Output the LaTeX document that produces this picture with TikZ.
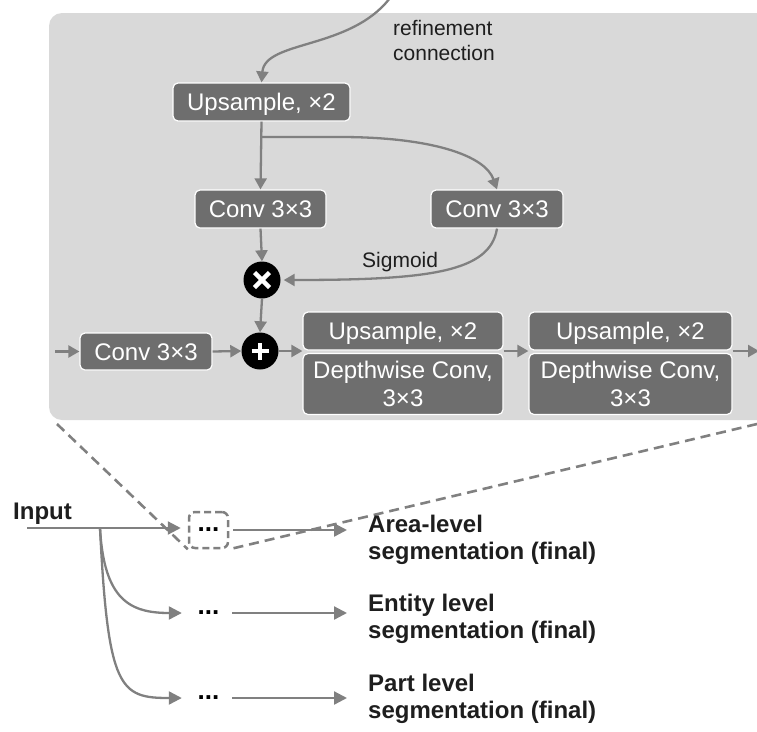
\documentclass[tikz,border=0pt]{standalone}
\usepackage{fontspec}
\setmainfont{Liberation Sans}
\usetikzlibrary{arrows.meta}
\definecolor{panelgray}{HTML}{D9D9D9}
\definecolor{boxgray}{HTML}{6E6E6E}
\definecolor{linegray}{HTML}{808080}
\definecolor{inkdark}{HTML}{1E1E1E}
\begin{document}
\begin{tikzpicture}[x=1pt,y=-1pt,
  block/.style={draw=white, line width=1.2pt, fill=boxgray, rounded corners=5pt,
    text=white, font=\fontsize{24}{28}\selectfont, inner sep=0pt},
  oneline/.style={block, text height=17pt, text depth=0pt},
  flow/.style={draw=linegray, line width=2.3pt, -{Triangle[length=11pt,width=12pt]}},
  flowB/.style={draw=linegray, line width=2.3pt, -{Triangle[length=13pt,width=13pt]}},
  op/.style={circle, fill=black, minimum size=37pt, inner sep=0pt},
  opsign/.style={draw=white, line width=4.5pt},
  zoomline/.style={draw=linegray, line width=2.6pt, dash pattern=on 10pt off 6pt},
  dotsbox/.style={minimum width=39pt, minimum height=36pt, inner sep=0pt,
    font=\bfseries\fontsize{26}{27}\selectfont},
  lbl/.style={font=\fontsize{21}{25}\selectfont, align=left, inner sep=0pt, text=inkdark},
  outlbl/.style={font=\bfseries\fontsize{24}{27}\selectfont, align=left, inner sep=0pt, text=inkdark},
]
\useasboundingbox (0,0) rectangle (757,731);

% magnified decoder panel
\fill[panelgray, rounded corners=13pt] (49,13) rectangle (800,420);

% blocks inside the panel
\node[oneline, minimum width=177pt, minimum height=38pt] (upA) at (261.5,102) {Upsample, ×2};
\node[oneline, minimum width=131pt, minimum height=38pt] (convA) at (260.5,209) {Conv 3×3};
\node[oneline, minimum width=132pt, minimum height=38pt] (convB) at (497,209) {Conv 3×3};
\node[op] (mul) at (262,280) {};
\node[op] (add) at (260,351) {};
\node[oneline, minimum width=132pt, minimum height=37pt] (convC) at (146,351.5) {Conv 3×3};
\node[oneline, minimum width=200pt, minimum height=38pt] (upB) at (403,331) {Upsample, ×2};
\node[block, align=center, minimum width=200pt, minimum height=61pt] (dwB) at (403,384) {Depthwise Conv,\\3×3};
\node[oneline, minimum width=203pt, minimum height=38pt] (upC) at (630.5,331) {Upsample, ×2};
\node[block, align=center, minimum width=203pt, minimum height=61pt] (dwC) at (630.5,384) {Depthwise Conv,\\3×3};

% multiply and add signs
\draw[opsign] ([shift={(-7.5pt,-7.5pt)}]mul.center) -- ([shift={(7.5pt,7.5pt)}]mul.center);
\draw[opsign] ([shift={(-7.5pt,7.5pt)}]mul.center) -- ([shift={(7.5pt,-7.5pt)}]mul.center);
\draw[opsign] ([xshift=-8.5pt]add.center) -- ([xshift=8.5pt]add.center);
\draw[opsign] ([yshift=-8.5pt]add.center) -- ([yshift=8.5pt]add.center);

% labels inside the panel
\node[lbl, anchor=west] (refLbl) at (393,40) {refinement\\connection};
\node[lbl, anchor=base west] (sigLbl) at (362,267) {Sigmoid};

% connectors inside the panel
\coordinate (refin) at (390,-2);
\coordinate (fork) at (261.5,137);
\coordinate (inL) at (55,351.5);
\coordinate (outR) at (759,351);
\draw[flow] (refin) .. controls (350,50) and (265,40) .. (upA.north);
\draw[flow] (upA.south) -- (convA.north);
\draw[flow] (fork) -- (340,137) .. controls (430,137) and (485,155) .. (convB.north);
\draw[flow] (convA.south) -- (mul.north);
\draw[flow, shorten >=3pt] (convB.south) .. controls (490,272) and (430,280) .. (mul.east);
\draw[flow] (mul.south) -- (add.north);
\draw[flow] (inL) -- (convC.west);
\draw[flow] (convC.east) -- (add.west);
\draw[flow] (add.east) -- (add.east -| upB.west);
\draw[flow] (add.east -| upB.east) -- (add.east -| upC.west);
\draw[flow] (add.east -| upC.east) -- (outR);

% overview of the three branches
\node[dotsbox, draw=linegray, line width=2.5pt, dash pattern=on 7pt off 4pt, rounded corners=6pt] (dotsA) at (208.5,530) {...};
\node[dotsbox] (dotsB) at (208.5,613) {...};
\node[dotsbox] (dotsC) at (208.5,698) {...};

\coordinate (panelBL) at (57,424);
\coordinate (panelBR) at (757,424);
\draw[zoomline] (panelBL) -- (dotsA.south west);
\draw[zoomline] (panelBR) -- (dotsA.south east);

\node[font=\bfseries\fontsize{24}{27}\selectfont, anchor=base west, inner sep=0pt, text=inkdark] (input) at (13,519) {Input};
\coordinate (inStart) at (27,528);
\coordinate (split) at (100,528);
\draw[flowB, shorten >=7pt] (inStart) -- (inStart -| dotsA.west);
\draw[flowB, shorten >=7pt] (split) .. controls (104,600) and (130,613) .. (dotsB.west);
\draw[flowB, shorten >=7pt] (split) .. controls (108,690) and (120,698) .. (dotsC.west);

\node[outlbl, anchor=west] (areaLbl) at (368,540.3) {Area-level\\segmentation (final)};
\node[outlbl, anchor=west] (entLbl) at (368,619.3) {Entity level\\segmentation (final)};
\node[outlbl, anchor=west] (partLbl) at (368,699.3) {Part level\\segmentation (final)};

\draw[flowB, shorten <=4pt, shorten >=21pt] (dotsA.east) -- (dotsA.east -| areaLbl.west);
\draw[flowB, shorten <=4pt, shorten >=21pt] (dotsB.east) -- (dotsB.east -| entLbl.west);
\draw[flowB, shorten <=4pt, shorten >=21pt] (dotsC.east) -- (dotsC.east -| partLbl.west);
\end{tikzpicture}
\end{document}
